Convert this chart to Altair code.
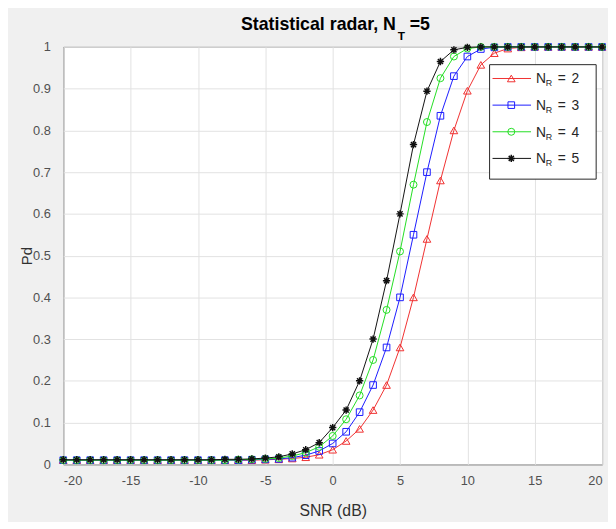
import altair as alt
import pandas as pd

# SNR grid (dB)
snr = list(range(-20, 21))

# Pd values (one value per dB)
pd_nr2 = [0.010] * 15 + [0.011, 0.012, 0.014, 0.017, 0.023, 0.035, 0.056, 0.085, 0.13, 0.19,
                         0.28, 0.40, 0.54, 0.68, 0.80, 0.895, 0.957, 0.985, 0.996, 0.999] + [1.0] * 6
pd_nr3 = [0.010] * 14 + [0.011, 0.012, 0.013, 0.016, 0.022, 0.032, 0.050, 0.078, 0.125, 0.19,
                         0.28, 0.40, 0.55, 0.70, 0.835, 0.93, 0.977, 0.995, 0.999] + [1.0] * 8
pd_nr4 = [0.010] * 13 + [0.011, 0.012, 0.013, 0.015, 0.020, 0.028, 0.042, 0.068, 0.108, 0.165,
                         0.25, 0.37, 0.51, 0.67, 0.82, 0.925, 0.977, 0.996] + [1.0] * 10
pd_nr5 = [0.011] * 12 + [0.012, 0.012, 0.013, 0.015, 0.018, 0.025, 0.035, 0.052, 0.088, 0.13,
                         0.20, 0.30, 0.44, 0.60, 0.766, 0.894, 0.965, 0.993, 0.999] + [1.0] * 10

series_nr = ["2", "3", "4", "5"]
series_vals = [pd_nr2, pd_nr3, pd_nr4, pd_nr5]
series_colors = ["#f03030", "#1a1aff", "#22dd22", "#111111"]
ASTERISK = "M-1,0L1,0M0,-1L0,1M-0.7,-0.7L0.7,0.7M-0.7,0.7L0.7,-0.7"
series_shapes = ["triangle-up", "square", "circle", ASTERISK]
series_sizes = [60, 45, 50, 55]
series_widths = [1, 1, 1, 1.5]

FONT = "Liberation Sans"
W, H = 546, 423

x_scale = alt.Scale(domain=[-20, 20], nice=False, zero=False)
y_scale = alt.Scale(domain=[0, 1], nice=False, zero=False)

x_axis = alt.Axis(values=list(range(-20, 21, 5)), title="SNR (dB)", grid=True, ticks=False,
                  domain=False, labelPadding=10, labelFontSize=13, labelColor="#505050",
                  labelFont=FONT, labelExpr="'' + datum.value",
                  titleFont=FONT, titleFontSize=16, titleFontWeight="normal", titleColor="#303030",
                  titleY=47, titleBaseline="middle", gridColor="#e2e2e2")
y_axis = alt.Axis(values=[i / 10 for i in range(11)], title="Pd", grid=True, ticks=False,
                  domain=False, labelPadding=13, labelFontSize=13, labelColor="#505050",
                  labelFont=FONT, format=".1~f",
                  titleFont=FONT, titleFontSize=15, titleFontWeight="normal", titleColor="#303030",
                  titleX=-37, titleY=H / 2, titleAngle=270, titleBaseline="middle",
                  titleAlign="center", gridColor="#e2e2e2")

layers = []
for nr, vals, color, shape, size, sw in zip(series_nr, series_vals, series_colors, series_shapes,
                                            series_sizes, series_widths):
    d = pd.DataFrame({"snr": snr, "pd": vals})
    enc = dict(x=alt.X("snr:Q", scale=x_scale, axis=x_axis),
               y=alt.Y("pd:Q", scale=y_scale, axis=y_axis))
    layers.append(alt.Chart(d).mark_line(color=color, strokeWidth=1).encode(**enc))
    layers.append(alt.Chart(d).mark_point(shape=shape, color=color, filled=False, size=size,
                                          strokeWidth=sw, opacity=1).encode(**enc))

one = pd.DataFrame({"a": [0]})

# Title with subscript
layers.append(alt.Chart(one).mark_text(text="Statistical radar, N", align="right", baseline="alphabetic",
                                       fontSize=18, fontWeight="bold", font=FONT, color="#000000")
              .encode(x=alt.value(337), y=alt.value(-17)))
layers.append(alt.Chart(one).mark_text(text="T", align="left", baseline="alphabetic",
                                       fontSize=12, fontWeight="bold", font=FONT, color="#000000")
              .encode(x=alt.value(339), y=alt.value(-7)))
layers.append(alt.Chart(one).mark_text(text="=5", align="left", baseline="alphabetic",
                                       fontSize=18, fontWeight="bold", font=FONT, color="#000000")
              .encode(x=alt.value(351), y=alt.value(-17)))

# Legend box
layers.append(alt.Chart(one).mark_rect(fill="white", stroke="#262626", strokeWidth=1)
              .encode(x=alt.value(432), x2=alt.value(540), y=alt.value(18), y2=alt.value(134)))
legend_rows = [32, 59, 86, 113]
for nr, color, shape, size, sw, ry in zip(series_nr, series_colors, series_shapes, series_sizes,
                                          series_widths, legend_rows):
    layers.append(alt.Chart(one).mark_rule(color=color, strokeWidth=1)
                  .encode(x=alt.value(435), x2=alt.value(474), y=alt.value(ry)))
    layers.append(alt.Chart(one).mark_point(shape=shape, color=color, filled=False, size=size,
                                            strokeWidth=sw, opacity=1)
                  .encode(x=alt.value(454), y=alt.value(ry)))
    layers.append(alt.Chart(one).mark_text(text="N", align="left", baseline="alphabetic",
                                           fontSize=14, font=FONT, color="#262626")
                  .encode(x=alt.value(479), y=alt.value(ry + 5)))
    layers.append(alt.Chart(one).mark_text(text="R", align="left", baseline="alphabetic",
                                           fontSize=9, font=FONT, color="#262626")
                  .encode(x=alt.value(489), y=alt.value(ry + 8)))
    layers.append(alt.Chart(one).mark_text(text="=", align="left", baseline="alphabetic",
                                           fontSize=14, font=FONT, color="#262626")
                  .encode(x=alt.value(501), y=alt.value(ry + 5)))
    layers.append(alt.Chart(one).mark_text(text=nr, align="left", baseline="alphabetic",
                                           fontSize=14, font=FONT, color="#262626")
                  .encode(x=alt.value(515), y=alt.value(ry + 5)))

chart = alt.layer(*layers).properties(
    width=W, height=H,
    autosize=alt.AutoSizeParams(type="none"),
    padding={"left": 56, "top": 36, "right": 6, "bottom": 55},
    background="#f0f0f0",
).configure_view(stroke="#262626", strokeWidth=1, fill="white")

chart.save("out.html", embed_options={"renderer": "svg", "actions": False})
